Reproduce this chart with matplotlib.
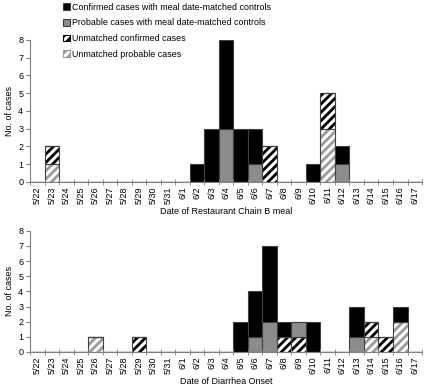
import matplotlib.pyplot as plt
import numpy as np
from matplotlib.patches import Patch

plt.rcParams['font.family'] = ['Liberation Sans', 'DejaVu Sans']
plt.rcParams['hatch.linewidth'] = 2.0

dates = ['5/22', '5/23', '5/24', '5/25', '5/26', '5/27', '5/28', '5/29', '5/30', '5/31',
         '6/1', '6/2', '6/3', '6/4', '6/5', '6/6', '6/7', '6/8', '6/9', '6/10',
         '6/11', '6/12', '6/13', '6/14', '6/15', '6/16', '6/17']

# panel A - date of meal
meal_unm_prob = [0, 1, 0, 0, 0, 0, 0, 0, 0, 0, 0, 0, 0, 0, 0, 0, 0, 0, 0, 0, 3, 0, 0, 0, 0, 0, 0]
meal_unm_conf = [0, 1, 0, 0, 0, 0, 0, 0, 0, 0, 0, 0, 0, 0, 0, 0, 2, 0, 0, 0, 2, 0, 0, 0, 0, 0, 0]
meal_prob     = [0, 0, 0, 0, 0, 0, 0, 0, 0, 0, 0, 0, 0, 3, 0, 1, 0, 0, 0, 0, 0, 1, 0, 0, 0, 0, 0]
meal_conf     = [0, 0, 0, 0, 0, 0, 0, 0, 0, 0, 0, 1, 3, 5, 3, 2, 0, 0, 0, 1, 0, 1, 0, 0, 0, 0, 0]

# panel B - onset
ons_unm_prob = [0, 0, 0, 0, 1, 0, 0, 0, 0, 0, 0, 0, 0, 0, 0, 0, 0, 0, 0, 0, 0, 0, 0, 1, 0, 2, 0]
ons_unm_conf = [0, 0, 0, 0, 0, 0, 0, 1, 0, 0, 0, 0, 0, 0, 0, 0, 0, 1, 1, 0, 0, 0, 0, 1, 1, 0, 0]
ons_prob     = [0, 0, 0, 0, 0, 0, 0, 0, 0, 0, 0, 0, 0, 0, 0, 1, 2, 0, 1, 0, 0, 0, 1, 0, 0, 0, 0]
ons_conf     = [0, 0, 0, 0, 0, 0, 0, 0, 0, 0, 0, 0, 0, 0, 2, 3, 5, 1, 0, 2, 0, 0, 2, 0, 0, 1, 0]

labels = ['Confirmed cases with meal date-matched controls',
          'Probable cases with meal date-matched controls',
          'Unmatched confirmed cases',
          'Unmatched probable cases']

edge = '#404040'
fs = 6.5


def draw(ax, up, uc, pr, co, xlabel):
    x = np.arange(len(dates))
    up, uc, pr, co = map(np.array, (up, uc, pr, co))
    b = np.zeros(len(dates))
    ax.bar(x, up, 1.0, bottom=b, color='white', edgecolor='#9a9a9a', hatch='////', linewidth=0)
    ax.bar(x, up, 1.0, bottom=b, fill=False, edgecolor=edge, linewidth=0.8)
    b = b + up
    ax.bar(x, uc, 1.0, bottom=b, color='white', edgecolor='black', hatch='////', linewidth=0)
    ax.bar(x, uc, 1.0, bottom=b, fill=False, edgecolor=edge, linewidth=0.8)
    b = b + uc
    ax.bar(x, pr, 1.0, bottom=b, color='#8c8c8c', edgecolor=edge, linewidth=0.8)
    b = b + pr
    ax.bar(x, co, 1.0, bottom=b, color='black', edgecolor=edge, linewidth=0.8)

    ax.set_xlim(-0.5, len(dates) - 0.5)
    ax.set_ylim(0, 8)
    ax.set_yticks(range(9))
    ax.set_xticks(x)
    ax.set_xticklabels(dates, rotation=90)
    ax.set_xticks(np.arange(-0.5, len(dates)), minor=True)
    ax.tick_params(axis='x', which='major', length=0, labelsize=fs, pad=3)
    ax.tick_params(axis='x', which='minor', length=4, direction='inout', color='#808080')
    ax.tick_params(axis='y', length=3, color='#808080', labelsize=fs, pad=2)
    for s in ['top', 'right']:
        ax.spines[s].set_visible(False)
    for s in ['left', 'bottom']:
        ax.spines[s].set_color('#808080')
        ax.spines[s].set_linewidth(0.8)
    ax.set_ylabel('No. of cases', fontsize=fs, labelpad=3)
    ax.set_xlabel(xlabel, fontsize=fs, labelpad=2)


fig = plt.figure(figsize=(4.25, 3.88), dpi=100)
ax1 = fig.add_axes([0.071, 0.531, 0.922, 0.366])
ax2 = fig.add_axes([0.071, 0.093, 0.922, 0.312])

draw(ax1, meal_unm_prob, meal_unm_conf, meal_prob, meal_conf, 'Date of Restaurant Chain B meal')
draw(ax2, ons_unm_prob, ons_unm_conf, ons_prob, ons_conf, 'Date of Diarrhea Onset')

handles = [Patch(facecolor='black', edgecolor=edge, linewidth=0.8),
           Patch(facecolor='#8c8c8c', edgecolor=edge, linewidth=0.8),
           Patch(facecolor='white', edgecolor='black', hatch='////', linewidth=0.8),
           Patch(facecolor='white', edgecolor='#9a9a9a', hatch='////', linewidth=0.8)]
fig.legend(handles, labels, loc='upper left', bbox_to_anchor=(0.145, 0.995), frameon=False,
           fontsize=6.4, handlelength=0.8, handleheight=0.8, handletextpad=0.3,
           labelspacing=0.75, borderpad=0.1, borderaxespad=0)

fig.savefig('out.png', dpi=100)
